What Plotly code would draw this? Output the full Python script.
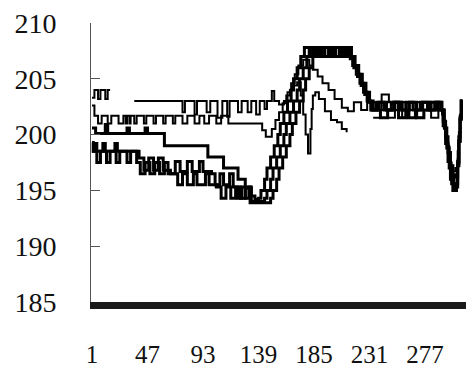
import plotly.graph_objects as go

# Series: x = sample index where a level starts, y = level (step lines)
S1_x = [1, 3, 6, 8, 12, 14, 16, 17,
        36, 76, 78, 86, 88, 96, 99, 105, 109, 113, 115, 122, 125, 130, 133, 137, 140, 144, 146, 150, 152, 156, 160,
        163, 166, 169, 172, 176, 181, 184, 188, 192, 197, 202, 208, 213,
        218, 224, 229, 236, 241, 247, 252, 258, 263, 269, 274, 280, 285,
        291, 293, 295, 297, 299, 301, 303, 304, 305, 306, 307, 308]
S1_y = [203.3, 204.0, 203.2, 204.0, 203.2, 204.0, 204.0, None,
        203.0, 202.0, 203.0, 201.8, 203.0, 202.0, 203.0, 201.5, 203.0, 201.6, 203.0, 202.0, 203.0, 202.0, 203.0, 201.8, 203.0, 202.3, 203.0, 203.9, 203.0, 202.7, 203.0,
        203.8, 204.6, 205.4, 206.2, 206.7, 206.2, 205.8, 205.2, 204.6, 204.0, 203.2, 202.4, 202.1,
        202.9, 202.2, 202.9, 202.2, 203.6, 202.9, 202.2, 202.9, 202.2, 202.9, 202.2, 202.9, 202.2,
        201.8, 200.5, 199.0, 197.5, 196.2, 195.6, 196.2, 197.8, 199.8, 201.6, 203.0, 203.0]

S2_x = [1, 3, 6, 9, 14, 17, 23, 27, 29, 30, 32, 33, 36, 38, 44, 46, 52, 54, 60, 62, 68, 70, 76, 80, 86, 90, 94, 98, 104, 108, 114, 121,
        142, 145, 150, 153, 156, 159, 162, 165, 168, 171, 174, 176, 178, 180, 182, 183, 184, 186, 189, 194, 199, 204, 208, 212, 213,
        234, 240, 246, 252, 258, 264, 270, 276, 282, 288,
        292, 294, 296, 298, 300, 302, 304, 305, 306, 307, 308]
S2_y = [202.6, 201.7, 201.0, 201.7, 201.0, 201.7, 201.0, 201.7, 201.0, 201.7, 201.0, 201.7, 201.0, 201.7, 201.0, 201.7,
        201.0, 201.7, 201.0, 201.7, 201.0, 201.7, 201.0, 201.7, 201.0, 201.7, 201.0, 201.7, 201.0, 201.7, 201.0, 201.0,
        200.4, 199.8, 200.5, 201.3, 202.0, 202.8, 203.5, 204.0, 204.4, 204.7, 203.5, 201.8, 200.0, 198.3, 200.5, 202.3, 203.5,
        203.8, 203.2, 202.1, 201.3, 201.1, 200.5, 200.2, None,
        201.5, 202.2, 201.5, 202.2, 201.5, 202.2, 201.5, 202.2, 201.5, 202.2,
        201.0, 199.6, 198.3, 197.2, 196.7, 197.0, 198.5, 200.2, 201.8, 203.0, 203.0]

S3_x = [1, 4, 12, 14, 30, 32, 45, 47, 61, 97, 110, 122, 128, 133, 136,
        139, 141, 144, 146, 149, 152, 155, 157, 160, 163, 166, 168, 171, 174, 177,
        181, 184, 188, 192, 197, 201, 206, 210, 214, 217, 220, 223, 226, 229, 232,
        237, 243, 249, 255, 261, 267, 273, 279, 285,
        290, 292, 294, 296, 298, 300, 302, 304, 305, 306, 307, 308]
S3_y = [200.6, 200.1, 200.9, 200.1, 200.6, 200.1, 200.6, 200.1, 199.0, 198.0, 197.0, 196.0, 195.2, 194.5, 194.2,
        194.3, 195, 196, 197, 198, 199, 200, 201, 202, 203, 204, 205, 206, 207, 207.8,
        207.0, 207.8, 207.0, 207.8, 207.0, 207.8, 207.0, 207.8, 207.0, 206.2, 205.4, 204.6, 203.8, 203.0, 202.2,
        202.9, 202.2, 202.9, 201.5, 202.9, 202.2, 202.9, 202.2, 202.9,
        202.2, 200.8, 199.2, 197.6, 196.0, 195.0, 195.3, 197.2, 199.4, 201.4, 203.0, 203.0]

S4_x = [1, 2, 5, 8, 13, 16, 21, 24, 30, 33, 38, 41, 45, 49, 53, 57, 61, 64, 70, 74, 80, 84, 90, 93, 100, 103, 107, 110, 115, 118, 122, 125, 128, 131, 133,
        144, 146, 149, 151, 154, 157, 160, 162, 165, 168, 171, 173, 176, 179, 182,
        185, 189, 193, 198, 202, 207, 211, 215, 218, 221, 224, 227, 230, 233,
        239, 245, 251, 257, 263, 269, 275, 281, 287,
        291, 293, 295, 297, 299, 301, 303, 304, 305, 306, 307, 308]
S4_y = [199.3, 198.5, 197.5, 198.5, 197.5, 198.5, 197.5, 198.5, 197.5, 198.5, 197.5, 196.5, 197.5, 196.5, 197.5, 196.5, 197.5, 196.5,
        197.6, 196.7, 197.6, 196.7, 197.6, 196.7, 196.5, 195.5, 196.5, 195.5, 196.5, 195.3, 194.3, 195.3, 194.3, 195.3, 194.0,
        194.3, 195, 196, 197, 198, 199, 200, 201, 202, 203, 204, 205, 206, 207, 207.8,
        207.0, 207.8, 207.0, 207.8, 207.0, 207.8, 207.0, 206.8, 206.0, 205.2, 204.4, 203.6, 202.9, 202.2,
        202.9, 202.2, 202.9, 202.2, 201.5, 202.2, 202.9, 202.2, 202.9,
        202.2, 200.6, 198.8, 197.0, 195.6, 195.0, 195.6, 197.6, 199.8, 201.6, 203.0, 203.0]

S5_x = [1, 3, 5, 10, 12, 20, 22, 40, 44, 48, 52, 56, 60, 66, 72, 76, 80, 85, 88, 95, 98, 104, 108, 112, 116, 120, 124, 128, 132,
        149, 151, 154, 156, 159, 162, 165, 167, 170, 173, 176, 178, 181, 184, 187,
        190, 194, 199, 203, 208, 212, 216, 219, 222, 225, 228, 231, 234,
        240, 246, 252, 258, 264, 270, 276, 282, 288,
        292, 294, 296, 298, 300, 302, 304, 305, 306, 307, 308]
S5_y = [198.5, 199.2, 198.5, 199.2, 198.5, 199.2, 198.5, 197.9, 196.8, 197.9, 196.8, 197.9, 196.8, 196.5, 195.5, 196.5, 195.5,
        196.5, 195.5, 196.5, 195.5, 195.3, 194.3, 195.3, 194.3, 195.3, 194.3, 195.3, 193.9,
        194.3, 195, 196, 197, 198, 199, 200, 201, 202, 203, 204, 205, 206, 207, 207.8,
        207.0, 207.8, 207.0, 207.8, 207.0, 207.8, 207.0, 206.2, 205.4, 204.6, 203.8, 203.0, 202.2,
        201.5, 202.2, 202.9, 202.2, 202.9, 201.5, 202.2, 202.9, 202.2,
        201.2, 199.8, 198.4, 197.2, 196.4, 196.2, 197.4, 199.4, 201.4, 203.0, 203.0]

x_ticks = [1, 47, 93, 139, 185, 231, 277]
y_ticks = [185, 190, 195, 200, 205, 210]

series = [(S1_x, S1_y, 2.0), (S2_x, S2_y, 2.0), (S3_x, S3_y, 3.0), (S4_x, S4_y, 3.0), (S5_x, S5_y, 3.0)]

fig = go.Figure()
for xs, ys, w in series:
    fig.add_trace(go.Scatter(x=xs, y=ys, mode="lines", line=dict(color="#000000", width=w, shape="hv"),
                             connectgaps=False, hoverinfo="skip"))

fig.update_layout(
    width=466, height=379,
    margin=dict(l=91, r=0, t=23, b=77, autoexpand=False),
    paper_bgcolor="white", plot_bgcolor="white",
    showlegend=False,
    font=dict(family="Liberation Serif, Times New Roman, serif", size=25, color="#111111"),
)
fig.update_xaxes(range=[0.17, 310.9], showgrid=False, zeroline=False, automargin=False,
                 showline=True, linewidth=7, linecolor="#1a1a1a",
                 tickmode="array", tickvals=x_ticks, ticktext=[str(v) for v in x_ticks],
                 ticks="", ticklabelstandoff=24, tickfont=dict(size=25))
fig.update_yaxes(range=[185, 210], showgrid=False, zeroline=False, automargin=False,
                 showline=True, linewidth=1, linecolor="#555555",
                 tickmode="array", tickvals=y_ticks, ticktext=[str(v) for v in y_ticks],
                 ticks="inside", ticklen=9, tickwidth=1, tickcolor="#555555",
                 ticklabelstandoff=28, tickfont=dict(size=28))

fig.write_html("out.html", config={"displayModeBar": False, "staticPlot": True},
               post_script="document.body.style.margin='0px';document.body.style.overflow='hidden';")
